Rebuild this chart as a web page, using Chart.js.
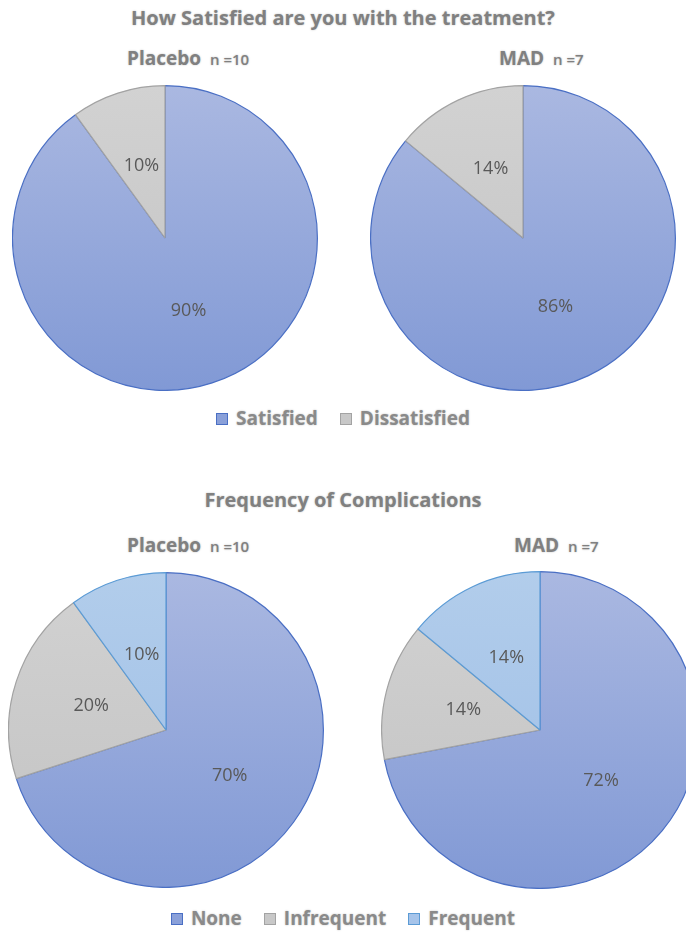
<!DOCTYPE html>
<html>
<head>
<meta charset="utf-8">
<script src="https://cdn.jsdelivr.net/npm/chart.js@4.4.1/dist/chart.umd.min.js"></script>
<style>
  html, body { margin:0; padding:0; width:686px; height:934px; overflow:hidden; background:#fff; }
  body { position:relative; font-family: "Open Sans", Lato, sans-serif; color:#808080; }
  .t { position:absolute; white-space:nowrap; font-weight:bold; text-shadow: 0 0 2px rgba(0,0,0,0.25); }
  .title { font-size:20px; line-height:20px; left:0; width:686px; text-align:center; }
  .grp { font-size:19px; line-height:20px; }
  .n { font-size:15px; font-weight:600; margin-left:9px; }
  canvas { position:absolute; }
  .legend { position:absolute; left:0; width:686px; text-align:center; font-size:19px; line-height:20px; font-weight:bold; color:#8a8a8a; text-shadow: 0 0 2px rgba(0,0,0,0.25); white-space:nowrap; }
  .legend span.item { display:inline-block; margin:0 11px; }
  .legend i { display:inline-block; width:12px; height:12px; margin-right:8px; vertical-align:0px; box-sizing:border-box; }
</style>
</head>
<body>
<div class="t title" style="top:8px;">How Satisfied are you with the treatment?</div>
<div class="t grp" style="left:127px; top:48px;">Placebo<span class="n">n =10</span></div>
<div class="t grp" style="left:499px; top:48px;">MAD<span class="n">n =7</span></div>
<canvas id="c1" width="306" height="306" style="left:12px; top:85px;"></canvas>
<canvas id="c2" width="306" height="306" style="left:370px; top:85px;"></canvas>
<div class="legend" id="leg1" style="top:408px;"></div>

<div class="t title" style="top:490px;">Frequency of Complications</div>
<div class="t grp" style="left:127px; top:535px;">Placebo<span class="n">n =10</span></div>
<div class="t grp" style="left:514px; top:535px;">MAD<span class="n">n =7</span></div>
<canvas id="c3" width="316" height="316" style="left:8px; top:572px;"></canvas>
<canvas id="c4" width="318" height="318" style="left:381px; top:571px;"></canvas>
<div class="legend" id="leg2" style="top:908px;"></div>

<script>
// ---- data ----
const satisfactionCategories = ["Satisfied", "Dissatisfied"];
const satisfactionPlacebo = [90, 10];
const satisfactionMAD = [86, 14];

const complicationCategories = ["None", "Infrequent", "Frequent"];
const complicationsPlacebo = [70, 20, 10];
const complicationsMAD = [72, 14, 14];

// ---- styles ----
const fillStops = {
  blue:  ["#aab8e1", "#8199d5"],
  gray:  ["#d2d2d2", "#c2c2c2"],
  light: ["#b2cdeb", "#9cbde6"]
};
const borderCols = { blue: "#4a6fc4", gray: "#a3a3a3", light: "#5b9bd5" };
const swatch = { blue: "#8aa0d9", gray: "#c8c8c8", light: "#a6c4ea" };

function gradFill(keys) {
  return function(ctx) {
    const key = keys[ctx.dataIndex] || keys[0];
    const chart = ctx.chart;
    const a = chart.chartArea;
    if (!a) return fillStops[key][0];
    const g = chart.ctx.createLinearGradient(0, a.top, 0, a.bottom);
    g.addColorStop(0, fillStops[key][0]);
    g.addColorStop(1, fillStops[key][1]);
    return g;
  };
}

const pctLabels = {
  id: "pctLabels",
  afterDatasetsDraw(chart) {
    const ctx = chart.ctx;
    const meta = chart.getDatasetMeta(0);
    const vals = chart.data.datasets[0].data;
    ctx.save();
    ctx.font = "18px 'Open Sans', Lato, sans-serif";
    ctx.fillStyle = "#595959";
    ctx.textAlign = "center";
    ctx.textBaseline = "middle";
    meta.data.forEach((arc, i) => {
      const p = arc.getProps(["startAngle", "endAngle", "outerRadius", "x", "y"], true);
      const ang = (p.startAngle + p.endAngle) / 2;
      const r = p.outerRadius * 0.5;
      ctx.fillText(vals[i] + "%", p.x + Math.cos(ang) * r, p.y + Math.sin(ang) * r);
    });
    ctx.restore();
  }
};

function makePie(id, labels, values, keys) {
  new Chart(document.getElementById(id), {
    type: "pie",
    data: {
      labels: labels,
      datasets: [{
        data: values,
        backgroundColor: gradFill(keys),
        borderColor: keys.map(k => borderCols[k]),
        borderWidth: 1.2
      }]
    },
    options: {
      responsive: false,
      animation: false,
      layout: { padding: 0 },
      plugins: { legend: { display: false }, tooltip: { enabled: false } }
    },
    plugins: [pctLabels]
  });
}

makePie("c1", satisfactionCategories, satisfactionPlacebo, ["blue", "gray"]);
makePie("c2", satisfactionCategories, satisfactionMAD, ["blue", "gray"]);
makePie("c3", complicationCategories, complicationsPlacebo, ["blue", "gray", "light"]);
makePie("c4", complicationCategories, complicationsMAD, ["blue", "gray", "light"]);

function buildLegend(id, labels, keys) {
  const el = document.getElementById(id);
  labels.forEach((lab, i) => {
    const s = document.createElement("span");
    s.className = "item";
    const sq = document.createElement("i");
    sq.style.background = swatch[keys[i]];
    sq.style.border = "1px solid " + borderCols[keys[i]];
    s.appendChild(sq);
    s.appendChild(document.createTextNode(lab));
    el.appendChild(s);
  });
}
buildLegend("leg1", satisfactionCategories, ["blue", "gray"]);
buildLegend("leg2", complicationCategories, ["blue", "gray", "light"]);
</script>
</body>
</html>
